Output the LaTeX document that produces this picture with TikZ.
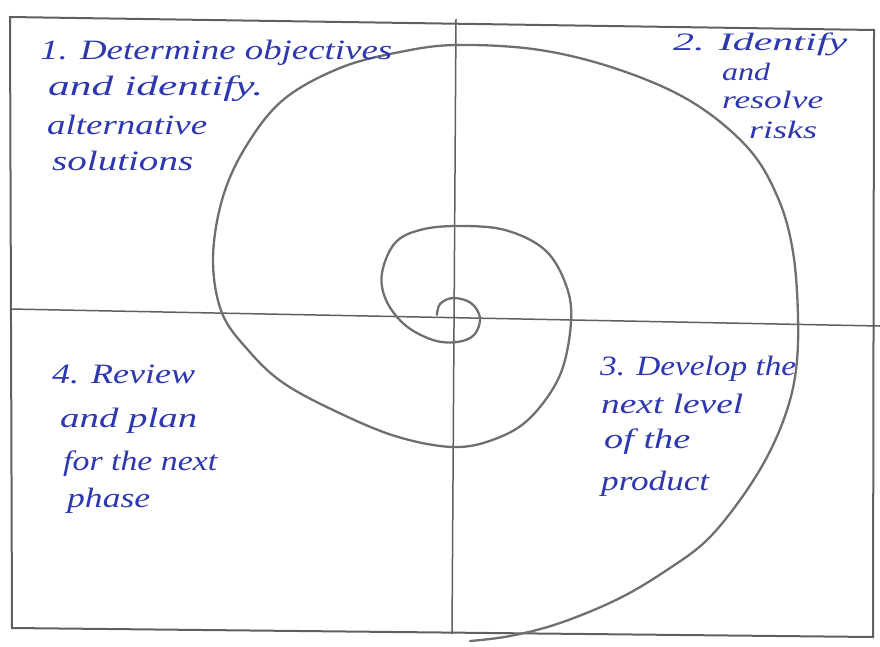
\documentclass[tikz,border=0pt]{standalone}
\usepackage{fontspec}
\usepackage{graphicx}
\setmainfont{Liberation Serif}
\definecolor{ink}{RGB}{45,55,175}
\definecolor{pencil}{RGB}{95,95,95}
\newcommand{\hwline}[2]{\resizebox{#1pt}{\height}{#2}}
\tikzset{
  hand/.style={font=\fontsize{28}{30}\selectfont\itshape, text=ink, anchor=base west, inner sep=0pt},
  handsmall/.style={hand, font=\fontsize{25}{27}\selectfont\itshape},
  frameline/.style={draw=pencil, line width=2pt},
  axisline/.style={draw=pencil, line width=1.5pt},
  spiralline/.style={draw=pencil!90, line width=2.3pt, line cap=round, line join=round}
}
\begin{document}
\begin{tikzpicture}[x=1pt,y=-1pt]
\useasboundingbox (0,0) rectangle (880,646);
% frame
\draw[frameline] (10,17) -- (874,30) -- (873,637) -- (12,628) -- cycle;
% axes
\draw[axisline] (456,19) -- (452,634);
\draw[axisline] (10,309) -- (880,326);
% spiral
\draw[spiralline] plot[smooth, tension=0.6] coordinates {
 (437,315) (440,304) (453,298) (471,303) (480,318) (474,335) (457,342)
 (433,340) (405,325) (386,300) (382,273) (395,243) (420,230) (457,226)
 (505,230) (545,250) (566,285) (571,322) (560,375) (530,418) (495,439)
 (453,447) (395,436) (333,410) (282,382) (248,350) (222,313) (213,260)
 (222,200) (245,148) (283,100) (340,68) (400,52) (457,45) (540,50)
 (620,70) (692,102) (748,148) (778,198) (793,252) (798,317) (796,370)
 (786,413) (767,457) (740,500) (707,540) (670,568) (620,598) (560,623)
 (510,636) (470,641)
};
% quadrant 1
\node[hand] (q1a) at (40,59) {\hwline{352}{1. Determine objectives}};
\node[hand] (q1b) at (48,95) {\hwline{215}{and identify.}};
\node[hand] (q1c) at (47,134) {\hwline{160}{alternative}};
\node[hand] (q1d) at (52,170) {\hwline{141}{solutions}};
% quadrant 2
\node[handsmall] (q2a) at (673,50) {\hwline{174}{2. Identify}};
\node[handsmall] (q2b) at (722,80) {\hwline{48}{and}};
\node[handsmall] (q2c) at (722,108) {\hwline{101}{resolve}};
\node[handsmall] (q2d) at (749,138) {\hwline{68}{risks}};
% quadrant 3
\node[hand] (q3a) at (600,375) {\hwline{196}{3. Develop the}};
\node[hand] (q3b) at (601,413) {\hwline{142}{next level}};
\node[hand] (q3c) at (604,448) {\hwline{86}{of the}};
\node[hand] (q3d) at (601,490) {\hwline{108}{product}};
% quadrant 4
\node[hand] (q4a) at (52,383) {\hwline{143}{4. Review}};
\node[hand] (q4b) at (60,427) {\hwline{137}{and plan}};
\node[hand] (q4c) at (63,470) {\hwline{154}{for the next}};
\node[hand] (q4d) at (67,507) {\hwline{83}{phase}};
\end{tikzpicture}
\end{document}
